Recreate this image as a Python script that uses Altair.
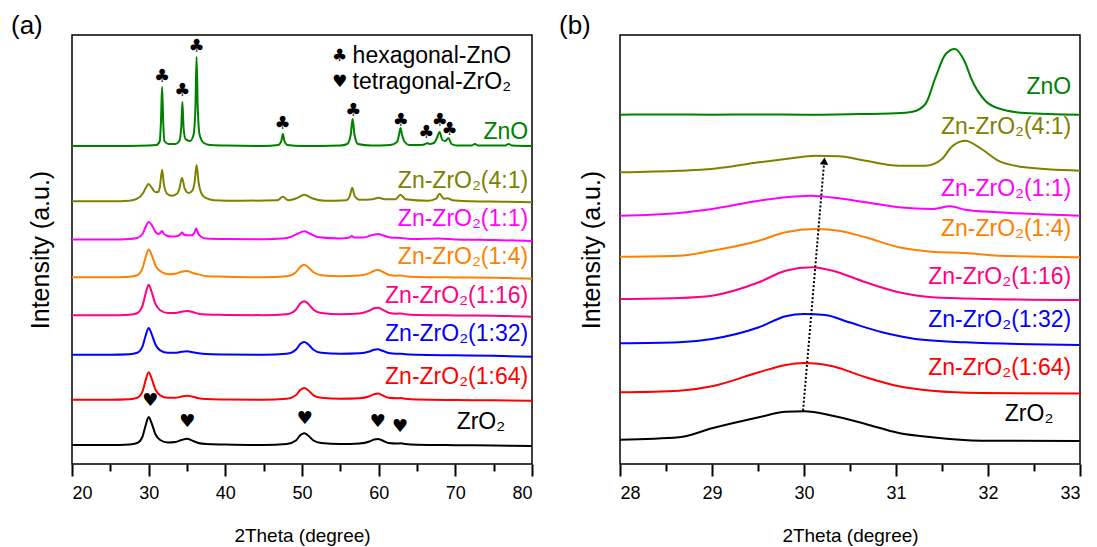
import altair as alt
import pandas as pd

# ---------------- data ----------------
SAMPLES = ["ZnO", "Zn-ZrO₂(4:1)", "Zn-ZrO₂(1:1)", "Zn-ZrO₂(1:4)", "Zn-ZrO₂(1:16)",
           "Zn-ZrO₂(1:32)", "Zn-ZrO₂(1:64)", "ZrO₂"]
COLORS = ["#008000", "#808000", "#ff00ff", "#ff8000", "#ff0080", "#0000ff", "#ff0000", "#000000"]

# vertical offsets of each stacked pattern (a.u.)
OFFSET_A = [317, 262.3, 224, 186.3, 148.3, 108.7, 63.7, 18.5]
OFFSET_B = [349.3, 291.7, 248.3, 207.3, 165, 120.7, 71.7, 24.3]

# ---- panel (a): 2theta 20-80 ----
A_ZNO_X = [20, 25, 30, 31.0, 31.45, 31.6, 31.75, 31.9, 32.05, 32.6, 33.5, 34.0, 34.25, 34.4, 34.55, 34.8,
           35.4, 35.85, 36.1, 36.25, 36.4, 36.65, 37.2, 38, 40, 45, 46.9, 47.3, 47.5, 47.7, 48.1, 50, 55,
           55.9, 56.35, 56.6, 56.85, 57.3, 59, 61.5, 62.4, 62.65, 62.85, 63.05, 63.4, 64, 65.6, 66.1, 66.35,
           66.6, 67.2, 67.6, 67.95, 68.3, 68.7, 69.1, 69.5, 70.2, 72.1, 72.55, 73, 76.5, 76.95, 77.4, 80]
A_ZNO_Y = [1, 1, 1.5, 2, 6, 25, 60, 25, 6, 3, 3, 6, 20, 45, 20, 8,
           6, 12, 40, 90, 40, 12, 4, 2, 1.5, 1, 2, 6, 13, 6, 2, 1, 1.5,
           3, 12, 28, 12, 3, 1.5, 2, 5, 12, 19, 12, 5, 2, 2, 3, 4,
           3, 4, 9, 15, 7, 6, 9, 3, 1.5, 1.5, 3, 1.5, 1.5, 3, 1.5, 1]

A_41_X = [20, 25, 27.5, 28.5, 29.3, 29.7, 30.0, 30.4, 30.9, 31.3, 31.5, 31.75, 32.0, 32.4, 33.0, 33.7,
          34.0, 34.35, 34.7, 35.2, 35.7, 36.0, 36.25, 36.5, 36.9, 37.5, 38.5, 42, 46.8, 47.5, 48.2, 49.3,
          50.3, 51.3, 53, 55.8, 56.25, 56.55, 56.85, 57.5, 59.2, 60.0, 60.8, 62.2, 62.85, 63.5, 66.5, 67.5,
          67.95, 68.5, 69.0, 69.6, 72, 76, 80]
A_41_Y = [0.5, 0.5, 1, 3, 9, 15, 17.7, 14, 9.5, 10, 17, 32, 17, 8, 6, 8,
          13, 24, 13, 8.7, 11, 20, 36.7, 20, 8, 3.5, 1.5, 1, 1.5, 5, 1.5, 3.5,
          7, 3.5, 1, 1.5, 6, 14, 6, 2, 2.5, 4, 2.5, 2.5, 7, 2.5, 1, 3,
          8, 3, 3.5, 1.5, 0.5, 0, -0.5]

A_11_X = [20, 25, 27.5, 28.5, 29.2, 29.6, 30.0, 30.4, 30.9, 31.3, 31.55, 31.75, 31.95, 32.3, 33.0, 33.8,
          34.1, 34.35, 34.6, 35.0, 35.6, 35.95, 36.2, 36.45, 36.9, 37.5, 40, 45, 47.5, 48.5, 49.5, 50.3,
          51.0, 52, 55, 56.2, 56.5, 56.8, 58, 59.2, 59.9, 60.6, 61.5, 62.9, 64.5, 67.9, 70, 75, 80]
A_11_Y = [0.5, 0.5, 1, 2, 6, 13, 18, 15, 8, 6, 7.5, 9, 6.5, 4.5, 3.4, 4,
          5.5, 7.4, 5.5, 4.7, 4.7, 7, 11.4, 6.5, 3, 1.5, 1, 0.8, 1.5, 3, 6.5, 8.7,
          6.5, 3, 1.5, 2.5, 4, 2.5, 2.5, 5, 6, 4.5, 2.5, 2, 1, 1.5, 0.5, 0, -1]

A_T_X = [20, 25, 27.5, 28.5, 29.2, 29.6, 30.0, 30.4, 30.9, 31.5, 32.5, 33.5, 34.3, 35.0, 35.8, 36.5,
         37.5, 40, 45, 48, 49.2, 49.8, 50.3, 50.8, 51.5, 52.5, 55, 57.5, 58.8, 59.4, 59.9, 60.5,
         61.3, 62.3, 62.9, 63.5, 65, 70, 75, 80]
A_14_Y = [0.5, 0.5, 1, 2.5, 9.5, 20.5, 28.3, 22.5, 12, 6.7, 3.5, 4, 6, 6.7, 4.5, 3.3,
          1.5, 1, 0.5, 1.5, 5.5, 11, 13, 10.5, 5.5, 2.5, 1.5, 2.2, 4.5, 7, 7.6, 6,
          3, 2, 2.2, 1.5, 0.8, 0.3, 0, -1]
A_116_Y = [0.5, 0.5, 1, 2.5, 10, 22, 31, 23.5, 11.5, 5.5, 2.8, 2.8, 4, 4.7, 3.5, 2,
           1.2, 0.8, 0.5, 1.5, 6, 12.5, 14.5, 12, 6, 2.8, 1.5, 2.2, 5, 7.5, 8, 6,
           3, 2, 2.2, 1.5, 0.8, 0.3, 0, -1]
A_132_Y = [0.5, 0.5, 1, 2.5, 9, 19.5, 27.4, 21, 10.5, 5, 2.5, 2.5, 3.5, 4, 3, 2,
           1.2, 0.8, 0.5, 1.5, 5.5, 11.5, 13.4, 11, 5.5, 2.5, 1.5, 2, 3.8, 5.5, 6, 4.5,
           2.3, 1.5, 1.5, 1, 0.5, 0, -0.5, -1.5]
A_164_Y = [0.5, 0.5, 1, 2.5, 9, 20, 28, 21.5, 10.5, 5, 2.5, 2.5, 3.8, 4.5, 3.5, 2,
           1.2, 0.8, 0.5, 1.5, 5, 10.5, 12.4, 10, 5, 2.5, 1.5, 2, 4, 6, 6.7, 5,
           2.5, 2, 2.3, 1.5, 0.8, 0.3, 0, -0.5]
A_ZRO2_Y = [0.5, 0.5, 1, 2.5, 9, 20, 28.4, 22, 11, 5.5, 3, 3.5, 5.5, 6.7, 4.5, 2.5,
            1.5, 1, 0.5, 1.5, 5, 10.5, 12.3, 10, 5, 2.5, 1.5, 2, 4, 6, 6.6, 5,
            2.5, 2, 2.2, 1.5, 0.8, 0.3, 0, -0.5]

# ---- panel (b): 2theta 28-33 ----
B_ZNO_X = [28, 28.5, 29, 29.5, 30, 30.5, 31.0, 31.18, 31.32, 31.43, 31.54, 31.64, 31.75, 31.82, 31.97,
           32.11, 32.4, 33]
B_ZNO_Y = [0, 0.3, 0, 0.3, 0, 0.5, 1.5, 3, 10.7, 37.4, 60.7, 65.7, 52.4, 35.7, 14, 6.4, 1.7, 0]
B_41_X = [28, 28.64, 29.0, 29.51, 29.8, 30.13, 30.38, 30.67, 31.03, 31.32, 31.5, 31.6, 31.75, 31.93,
          32.11, 32.4, 33]
B_41_Y = [0, 1.6, 3.3, 10, 13.3, 16.6, 16, 11.6, 6.6, 6.6, 13.3, 25, 31.6, 23.3, 11.6, 5, 1.6]
B_11_X = [28, 28.64, 29.0, 29.51, 29.8, 30.07, 30.38, 30.67, 31.03, 31.39, 31.59, 31.75, 32.11, 33]
B_11_Y = [0, 2.7, 6.7, 15, 18.4, 20, 17.4, 13.4, 8.4, 6.7, 9.4, 6, 3.4, 0]
B_14_X = [28, 28.64, 29.0, 29.51, 29.8, 30.13, 30.38, 30.67, 31.03, 31.39, 31.75, 32.11, 33]
B_14_Y = [0, 1, 6, 16, 24.4, 27.7, 26, 19.4, 9.4, 5, 3.7, 1, -0.6]
B_116_X = [28, 28.64, 29.0, 29.51, 29.8, 30.09, 30.31, 30.67, 31.03, 31.39, 32.0, 33]
B_116_Y = [0, 1, 3.3, 16.7, 28.3, 31.7, 28.3, 16.7, 6.7, 1.7, 0, -1]
B_132_X = [28, 28.64, 29.0, 29.51, 29.8, 30.0, 30.23, 30.49, 30.85, 31.21, 31.75, 33]
B_132_Y = [0, 1, 4.3, 16, 27, 29.3, 28.3, 21, 11, 4.3, 1, -1.7]
B_164_X = [28, 28.64, 29.0, 29.51, 29.8, 30.0, 30.31, 30.67, 31.03, 31.39, 31.93, 33]
B_164_Y = [0, 1.6, 6, 20, 27.3, 29.3, 26, 15, 6, 1.6, -0.7, -1.3]
B_ZRO2_X = [28, 28.64, 29.0, 29.51, 29.8, 30.0, 30.31, 30.67, 31.03, 31.39, 31.93, 33]
B_ZRO2_Y = [0, 2.4, 11.4, 22.4, 28, 28.4, 24, 15.7, 6.7, 2.4, -1, -1.3]

# sample labels (right edge x, vertical centre y)
LABEL_A_X = [79.5, 79.5, 79.5, 79.5, 79.5, 79.5, 79.5, 76.5]
LABEL_A_Y = [332, 283.3, 245, 207, 168.3, 130, 86.7, 42.3]
LABEL_B_X = [32.905, 32.905, 32.905, 32.905, 32.905, 32.905, 32.905, 32.71]
LABEL_B_Y = [376.7, 336.7, 275, 235, 186.7, 144.3, 95.7, 50]

# phase markers in (a)
CLUB_X = [31.75, 34.4, 36.25, 47.45, 56.7, 62.88, 66.2, 67.96, 69.25]
CLUB_Y = [387, 373.3, 417, 340, 353.3, 343.3, 331, 343.3, 334.3]
HEART_X = [30.2, 35.05, 50.38, 59.9, 62.8]
HEART_Y = [63.3, 41.7, 45.3, 42.3, 36.7]

LEGEND_SYMBOL = ["♣", "♥"]
LEGEND_TEXT = ["hexagonal-ZnO", "tetragonal-ZrO₂"]
LEGEND_SYM_X = [54.9, 54.9]
LEGEND_TXT_X = [56.6, 56.6]
LEGEND_Y = [408.3, 382]

# shift arrow in (b)
ARROW_X = [29.99, 30.22]
ARROW_Y = [53.3, 303]

TICKS_A = [20, 30, 40, 50, 60, 70, 80]
MINOR_A = [25, 35, 45, 55, 65, 75]
TICKS_B = [28, 29, 30, 31, 32, 33]
MINOR_B = [28.5, 29.5, 30.5, 31.5, 32.5]

# ---------------- build tables ----------------
curves_a = [(A_ZNO_X, A_ZNO_Y), (A_41_X, A_41_Y), (A_11_X, A_11_Y), (A_T_X, A_14_Y),
            (A_T_X, A_116_Y), (A_T_X, A_132_Y), (A_T_X, A_164_Y), (A_T_X, A_ZRO2_Y)]
curves_b = [(B_ZNO_X, B_ZNO_Y), (B_41_X, B_41_Y), (B_11_X, B_11_Y), (B_14_X, B_14_Y),
            (B_116_X, B_116_Y), (B_132_X, B_132_Y), (B_164_X, B_164_Y), (B_ZRO2_X, B_ZRO2_Y)]


def curve_table(curves, offsets):
    rows = []
    for name, (xs, ys), off in zip(SAMPLES, curves, offsets):
        assert len(xs) == len(ys), name
        for x, y in zip(xs, ys):
            rows.append({"sample": name, "x": x, "y": y + off})
    return pd.DataFrame(rows)


df_a = curve_table(curves_a, OFFSET_A)
df_b = curve_table(curves_b, OFFSET_B)
lab_a = pd.DataFrame({"sample": SAMPLES, "x": LABEL_A_X, "y": LABEL_A_Y})
lab_b = pd.DataFrame({"sample": SAMPLES, "x": LABEL_B_X, "y": LABEL_B_Y})

W, H = 460, 429
YMAX = 429
TXT_FONT = "Liberation Sans"
AX_FONT = "Liberation Sans"
color_scale = alt.Scale(domain=SAMPLES, range=COLORS)
y_scale = alt.Scale(domain=[0, YMAX], nice=False, zero=False)


def X(xs):
    return alt.X("x:Q", scale=xs, axis=None)


def Y():
    return alt.Y("y:Q", scale=y_scale, axis=None)


def panel(df, labels, domain, major, minor, letter, extras, ytitle_pad):
    xs = alt.Scale(domain=domain, nice=False, zero=False)
    lines = alt.Chart(df).mark_line(strokeWidth=2, interpolate="monotone").encode(
        x=alt.X("x:Q", scale=xs,
                axis=alt.Axis(values=major, format="d", title="2Theta (degree)", orient="bottom",
                              tickSize=12, tickWidth=2, labelFontSize=18, labelFont=AX_FONT,
                              labelPadding=8, titleFont=AX_FONT, titleFontSize=19,
                              titlePadding=24, domain=False, grid=False)),
        y=alt.Y("y:Q", scale=y_scale,
                axis=alt.Axis(title="Intensity (a.u.)", labels=False, ticks=False, domain=False,
                              grid=False, titleFont=TXT_FONT, titleFontSize=25,
                              titlePadding=ytitle_pad, orient="left")),
        color=alt.Color("sample:N", scale=color_scale, legend=None),
    )
    minor_layer = alt.Chart(pd.DataFrame({"x": minor})).mark_point(opacity=0).encode(
        x=alt.X("x:Q", scale=xs,
                axis=alt.Axis(values=minor, labels=False, title=None, tickSize=7, tickWidth=2,
                              orient="bottom", domain=False, grid=False)),
    )
    texts = alt.Chart(labels).mark_text(align="right", baseline="middle", fontSize=23,
                                        font=TXT_FONT).encode(
        x=X(xs), y=Y(),
        text="sample:N",
        color=alt.Color("sample:N", scale=color_scale, legend=None),
    )
    tag = alt.Chart(pd.DataFrame({"t": [letter]})).mark_text(
        align="left", baseline="middle", fontSize=26, font=TXT_FONT, color="black").encode(
        x=alt.value(-61), y=alt.value(-9), text="t:N")
    layers = [lines, minor_layer, texts, tag] + [e(xs) for e in extras]
    return (alt.layer(*layers)
            .resolve_axis(x="independent", y="independent")
            .properties(width=W, height=H))


def markers_a(xs):
    clubs = alt.Chart(pd.DataFrame({"x": CLUB_X, "y": CLUB_Y, "s": ["♣"] * len(CLUB_X)})).mark_text(
        fontSize=18, font="DejaVu Sans", color="black", baseline="middle").encode(
        x=X(xs), y=Y(), text="s:N")
    hearts = alt.Chart(pd.DataFrame({"x": HEART_X, "y": HEART_Y, "s": ["♥"] * len(HEART_X)})).mark_text(
        fontSize=18, font="DejaVu Sans", color="black", baseline="middle").encode(
        x=X(xs), y=Y(), text="s:N")
    return alt.layer(clubs, hearts)


def legend_a(xs):
    syms = alt.Chart(pd.DataFrame({"x": LEGEND_SYM_X, "y": LEGEND_Y, "s": LEGEND_SYMBOL})).mark_text(
        fontSize=17, font="DejaVu Sans", color="black", baseline="middle").encode(
        x=X(xs), y=Y(), text="s:N")
    txt = alt.Chart(pd.DataFrame({"x": LEGEND_TXT_X, "y": LEGEND_Y, "s": LEGEND_TEXT})).mark_text(
        fontSize=23, font=TXT_FONT, color="black", baseline="middle", align="left").encode(
        x=X(xs), y=Y(), text="s:N")
    return alt.layer(syms, txt)


def arrow_b(xs):
    adf = pd.DataFrame({"x": ARROW_X, "y": ARROW_Y})
    line = alt.Chart(adf).mark_line(color="black", strokeWidth=2, strokeDash=[2, 2]).encode(
        x=X(xs), y=Y())
    head = alt.Chart(adf.iloc[[1]]).mark_point(shape="triangle-up", filled=True, size=70,
                                               color="black", opacity=1, angle=5).encode(
        x=X(xs), y=Y())
    return alt.layer(line, head)


pa = panel(df_a, lab_a, [20, 80], TICKS_A, MINOR_A, "(a)", [markers_a, legend_a], 19)
pb = panel(df_b, lab_b, [28, 33], TICKS_B, MINOR_B, "(b)", [arrow_b], 16)

chart = alt.hconcat(pa, pb, spacing=21).properties(
    padding={"left": 2, "top": 4, "right": 2, "bottom": 2}
).configure_view(stroke="black", strokeWidth=1.5).configure_axis(
    labelColor="black", titleColor="black", tickColor="black", titleFontWeight="normal",
    labelFontWeight="normal", labelFont=AX_FONT, titleFont=AX_FONT
).configure_axisX(
    labelFontSize=18, titleFontSize=19
)

chart.save("out.html", embed_options={"renderer": "svg", "actions": False})
